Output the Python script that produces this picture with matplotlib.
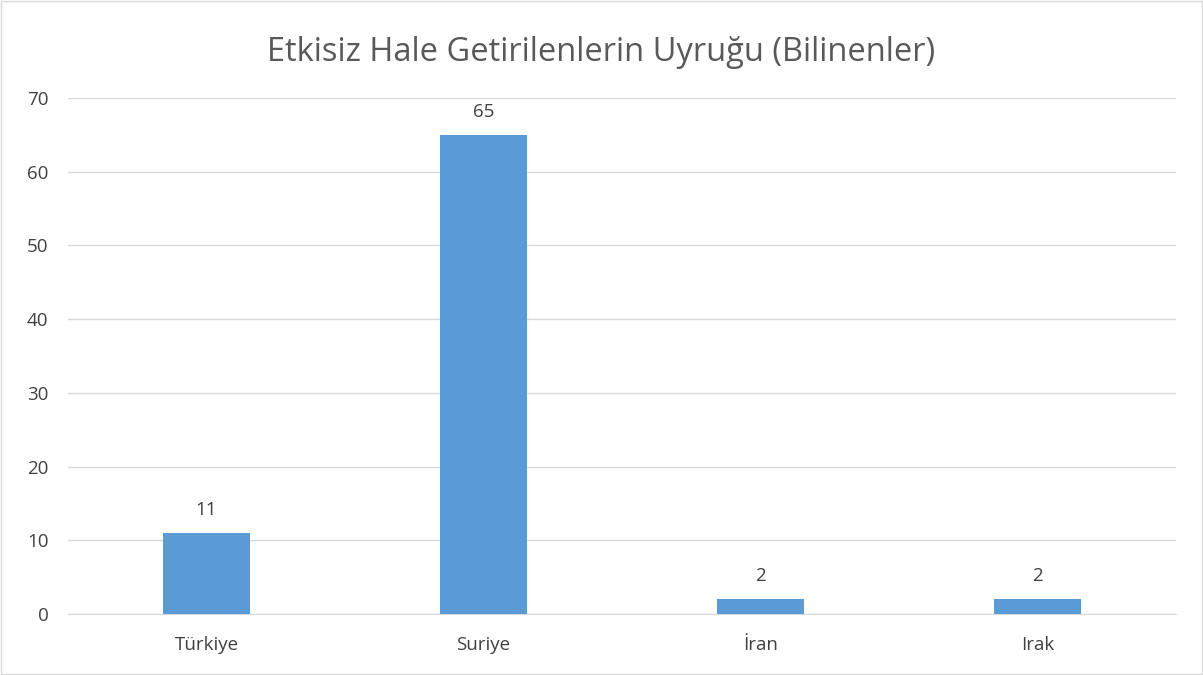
import matplotlib.pyplot as plt
from matplotlib.patches import Rectangle

categories = ["Türkiye", "Suriye", "İran", "Irak"]
values = [11, 65, 2, 2]
y_ticks = [0, 10, 20, 30, 40, 50, 60, 70]

plt.rcParams['font.family'] = ['Open Sans', 'DejaVu Sans']

fig = plt.figure(figsize=(12.03, 6.75), dpi=100)
ax = fig.add_axes([0.0565, 0.0904, 0.921, 0.7644])

x = range(len(categories))
bars = ax.bar(x, values, width=0.315, color="#5B9BD5", zorder=3)

for xi, v in zip(x, values):
    ax.annotate(str(v), (xi, v), xytext=(0, 10), textcoords="offset points",
                ha="center", va="bottom", fontsize=13.5, color="#404040")

ax.set_xlim(-0.5, len(categories) - 0.5)
ax.set_ylim(0, 70)
ax.set_yticks(y_ticks)
ax.set_xticks(list(x))
ax.set_xticklabels(categories)
ax.tick_params(axis="both", length=0, labelsize=13.5, colors="#404040")
ax.tick_params(axis="x", pad=16)
ax.tick_params(axis="y", pad=14)
ax.grid(axis="y", color="#D9D9D9", linewidth=1, zorder=0)
for side in ["top", "right", "left"]:
    ax.spines[side].set_visible(False)
ax.spines["bottom"].set_color("#D9D9D9")

fig.text(0.5, 0.922, "Etkisiz Hale Getirilenlerin Uyruğu (Bilinenler)",
         ha="center", va="center", fontsize=23.5, color="#595959")

fig.patches.append(Rectangle((0.001, 0.001), 0.998, 0.998, transform=fig.transFigure,
                             fill=False, edgecolor="#D9D9D9", linewidth=1))

fig.savefig("out.png", dpi=100)
